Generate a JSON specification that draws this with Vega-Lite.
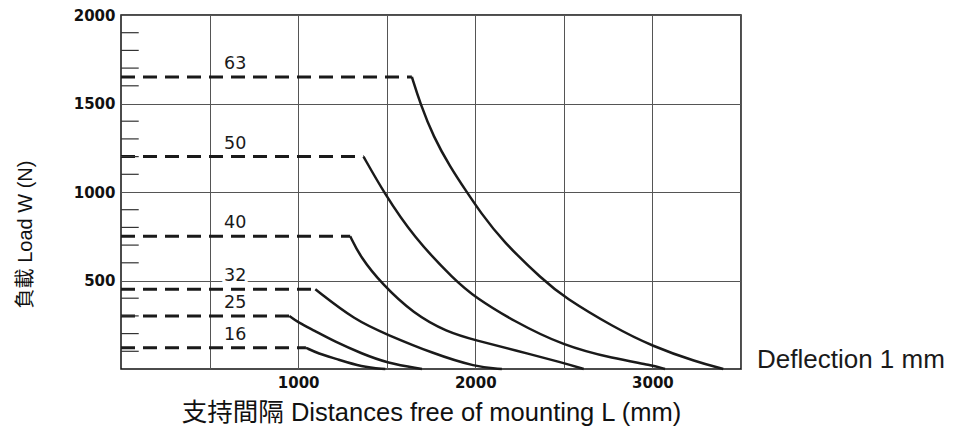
{
  "$schema": "https://vega.github.io/schema/vega-lite/v6.json",
  "autosize": {"type": "none"},
  "width": 620,
  "height": 354,
  "padding": {"left": 121, "top": 15, "right": 220, "bottom": 68},
  "background": "white",
  "config": {
    "view": {"stroke": "#111", "strokeWidth": 1.5},
    "font": "Liberation Sans"
  },
  "datasets": {
    "dash": [
      {"s": "63", "L": 0, "W": 1650}, {"s": "63", "L": 1642, "W": 1650},
      {"s": "50", "L": 0, "W": 1200}, {"s": "50", "L": 1369, "W": 1200},
      {"s": "40", "L": 0, "W": 750}, {"s": "40", "L": 1294, "W": 750},
      {"s": "32", "L": 0, "W": 450}, {"s": "32", "L": 1097, "W": 450},
      {"s": "25", "L": 0, "W": 300}, {"s": "25", "L": 950, "W": 300},
      {"s": "16", "L": 0, "W": 120}, {"s": "16", "L": 1044, "W": 120}
    ],
    "curve": [
      {"s": "63", "L": 1642, "W": 1650}, {"s": "63", "L": 1689, "W": 1500}, {"s": "63", "L": 1764, "W": 1311},
      {"s": "63", "L": 1858, "W": 1142}, {"s": "63", "L": 1952, "W": 1000}, {"s": "63", "L": 2028, "W": 887},
      {"s": "63", "L": 2150, "W": 727}, {"s": "63", "L": 2385, "W": 500}, {"s": "63", "L": 2500, "W": 407},
      {"s": "63", "L": 2780, "W": 237}, {"s": "63", "L": 3000, "W": 128}, {"s": "63", "L": 3250, "W": 40},
      {"s": "63", "L": 3400, "W": 0},
      {"s": "50", "L": 1369, "W": 1200}, {"s": "50", "L": 1482, "W": 1000}, {"s": "50", "L": 1651, "W": 746},
      {"s": "50", "L": 1886, "W": 500}, {"s": "50", "L": 2000, "W": 405}, {"s": "50", "L": 2215, "W": 271},
      {"s": "50", "L": 2500, "W": 130}, {"s": "50", "L": 2780, "W": 59}, {"s": "50", "L": 3000, "W": 21},
      {"s": "50", "L": 3071, "W": 0},
      {"s": "40", "L": 1294, "W": 750}, {"s": "40", "L": 1351, "W": 633}, {"s": "40", "L": 1473, "W": 480},
      {"s": "40", "L": 1651, "W": 313}, {"s": "40", "L": 1840, "W": 209},
      {"s": "40", "L": 2003, "W": 162}, {"s": "40", "L": 2225, "W": 106},
      {"s": "40", "L": 2500, "W": 34}, {"s": "40", "L": 2612, "W": 0},
      {"s": "32", "L": 1097, "W": 450}, {"s": "32", "L": 1322, "W": 275}, {"s": "32", "L": 1501, "W": 195},
      {"s": "32", "L": 1760, "W": 88}, {"s": "32", "L": 2003, "W": 11}, {"s": "32", "L": 2150, "W": 0},
      {"s": "25", "L": 950, "W": 300}, {"s": "25", "L": 1000, "W": 263}, {"s": "25", "L": 1087, "W": 219},
      {"s": "25", "L": 1210, "W": 153}, {"s": "25", "L": 1360, "W": 87}, {"s": "25", "L": 1501, "W": 34},
      {"s": "25", "L": 1699, "W": 0},
      {"s": "16", "L": 1044, "W": 120}, {"s": "16", "L": 1115, "W": 87}, {"s": "16", "L": 1210, "W": 59},
      {"s": "16", "L": 1360, "W": 11}, {"s": "16", "L": 1492, "W": 0}
    ],
    "labels": [
      {"s": "63", "W": 1650}, {"s": "50", "W": 1200}, {"s": "40", "W": 750},
      {"s": "32", "W": 450}, {"s": "25", "W": 300}, {"s": "16", "W": 120}
    ],
    "minor": [
      {"W": 100}, {"W": 200}, {"W": 300}, {"W": 400}, {"W": 600}, {"W": 700}, {"W": 800}, {"W": 900},
      {"W": 1100}, {"W": 1200}, {"W": 1300}, {"W": 1400}, {"W": 1600}, {"W": 1700}, {"W": 1800}, {"W": 1900}
    ]
  },
  "layer": [
    {
      "data": {"name": "dash"},
      "mark": {"type": "line", "color": "#1a1a1a", "strokeWidth": 3, "strokeDash": [14, 8]},
      "encoding": {
        "x": {
          "field": "L", "type": "quantitative",
          "scale": {"domain": [0, 3500], "nice": false, "zero": false},
          "axis": {
            "values": [500, 1000, 1500, 2000, 2500, 3000, 3500],
            "format": "d",
            "labelExpr": "datum.value % 1000 === 0 && datum.value < 3500 ? datum.label : ''",
            "grid": true, "gridColor": "#555", "gridWidth": 1, "gridOpacity": 1,
            "ticks": false, "domain": false,
            "labelFont": "DejaVu Sans", "labelFontSize": 15, "labelFontWeight": "bold", "labelColor": "#111",
            "labelPadding": 6,
            "title": "支持間隔 Distances free of mounting L (mm)",
            "titleFont": "Liberation Sans, Noto Sans CJK TC", "titleFontSize": 25.5, "titleFontWeight": "normal",
            "titleColor": "#111", "titlePadding": 10
          }
        },
        "y": {
          "field": "W", "type": "quantitative",
          "scale": {"domain": [0, 2000], "nice": false},
          "axis": {
            "values": [500, 1000, 1500, 2000],
            "format": "d",
            "grid": true, "gridColor": "#555", "gridWidth": 1, "gridOpacity": 1,
            "ticks": false, "domain": false,
            "labelFont": "DejaVu Sans", "labelFontSize": 15, "labelFontWeight": "bold", "labelColor": "#111",
            "labelPadding": 6,
            "title": "負載 Load W (N)",
            "titleFont": "Liberation Sans, Noto Sans CJK TC", "titleFontSize": 20, "titleFontWeight": "normal",
            "titleColor": "#111", "titlePadding": 38, "titleY": 219, "titleAlign": "center"
          }
        },
        "detail": {"field": "s"}
      }
    },
    {
      "data": {"name": "minor"},
      "mark": {"type": "rule", "color": "#333", "strokeWidth": 1.2},
      "encoding": {
        "x": {"datum": 0, "type": "quantitative"},
        "x2": {"datum": 100},
        "y": {"field": "W", "type": "quantitative"}
      }
    },
    {
      "data": {"name": "curve"},
      "mark": {"type": "line", "color": "#1a1a1a", "strokeWidth": 2.5, "interpolate": "basis"},
      "encoding": {
        "x": {"field": "L", "type": "quantitative"},
        "y": {"field": "W", "type": "quantitative"},
        "detail": {"field": "s"}
      }
    },
    {
      "data": {"name": "labels"},
      "mark": {"type": "text", "font": "DejaVu Sans", "fontSize": 17.5, "baseline": "bottom", "dy": -4,
               "stroke": "white", "strokeWidth": 6, "fill": "white"},
      "encoding": {
        "x": {"datum": 645, "type": "quantitative"},
        "y": {"field": "W", "type": "quantitative"},
        "text": {"field": "s"}
      }
    },
    {
      "data": {"name": "labels"},
      "mark": {"type": "text", "font": "DejaVu Sans", "fontSize": 17.5, "baseline": "bottom", "dy": -4, "color": "#1a1a1a"},
      "encoding": {
        "x": {"datum": 645, "type": "quantitative"},
        "y": {"field": "W", "type": "quantitative"},
        "text": {"field": "s"}
      }
    },
    {
      "data": {"values": [{}]},
      "mark": {"type": "text", "font": "Liberation Sans", "fontSize": 26, "align": "left", "baseline": "middle", "dx": 16, "color": "#1a1a1a"},
      "encoding": {
        "x": {"datum": 3500, "type": "quantitative"},
        "y": {"datum": 50, "type": "quantitative"},
        "text": {"value": "Deflection 1 mm"}
      }
    }
  ]
}
